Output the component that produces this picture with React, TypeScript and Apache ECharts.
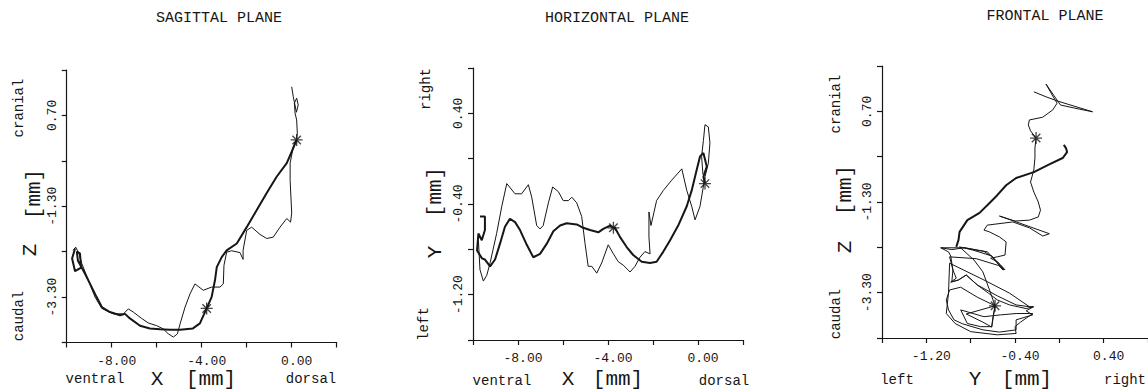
import React, { useEffect, useRef } from "react";
import * as echarts from "echarts";

// ---------- axis ticks / labels ----------
const sagittalXTicks = [-10, -8, -6, -4, -2, 0, 2];
const sagittalXLabels = [-8, -4, 0];
const sagittalZTicks = [-4.3, -3.3, -2.3, -1.3, -0.3, 0.7, 1.7];
const sagittalZLabels = [-3.3, -1.3, 0.7];

const horizontalXTicks = [-10, -8, -6, -4, -2, 0, 2];
const horizontalXLabels = [-8, -4, 0];
const horizontalYTicks = [-1.6, -1.2, -0.8, -0.4, 0, 0.4, 0.8];
const horizontalYLabels = [-1.2, -0.4, 0.4];

const frontalYTicks = [-1.6, -1.2, -0.8, -0.4, 0, 0.4, 0.8];
const frontalYLabels = [-1.2, -0.4, 0.4];
const frontalZTicks = [-4.3, -3.3, -2.3, -1.3, -0.3, 0.7, 1.7];
const frontalZLabels = [-3.3, -1.3, 0.7];

// ---------- trajectories (mm) ----------
const sagittalThick: [number, number][] = [
  [-9.63, -2.23], [-9.76, -2.45], [-9.63, -2.73], [-9.36, -2.65], [-9.41, -2.34], [-9.55, -2.3],
  [-9.5, -2.5], [-9.19, -2.78], [-8.89, -3.08], [-8.67, -3.3], [-8.44, -3.52], [-8.08, -3.63],
  [-7.63, -3.7], [-7.41, -3.67], [-7.19, -3.77], [-6.74, -3.93], [-6.3, -3.99], [-5.85, -4.01],
  [-5.41, -4.02], [-4.96, -4.02], [-4.39, -3.99], [-4.08, -3.88], [-3.78, -3.55], [-3.56, -3.3],
  [-3.41, -2.93], [-3.33, -2.64], [-3.11, -2.42], [-2.89, -2.27], [-2.44, -2.12], [-2.0, -1.76],
  [-1.56, -1.39], [-1.11, -1.01], [-0.67, -0.65], [-0.22, -0.35], [0.0, -0.1], [0.22, 0.16],
];
const sagittalThin: [number, number][] = [
  [-9.71, -2.27], [-9.6, -2.2], [-9.45, -2.35], [-9.33, -2.56], [-9.04, -2.93], [-8.74, -3.3],
  [-8.44, -3.55], [-7.93, -3.67], [-7.48, -3.67], [-7.26, -3.56], [-7.04, -3.63], [-6.67, -3.77],
  [-6.37, -3.87], [-6.0, -3.93], [-5.71, -4.0], [-5.48, -4.11], [-5.26, -4.18], [-5.08, -4.11],
  [-4.96, -3.89], [-4.74, -3.52], [-4.52, -3.23], [-4.3, -3.01], [-3.93, -3.15], [-3.56, -3.08],
  [-3.19, -3.08], [-3.04, -3.01], [-3.01, -2.6], [-2.89, -2.31], [-2.67, -2.28], [-2.3, -2.32],
  [-2.16, -2.47], [-2.16, -2.27], [-2.0, -1.83], [-1.78, -1.76], [-1.41, -1.92], [-1.11, -2.01],
  [-0.82, -1.98], [-0.52, -1.76], [-0.22, -1.57], [-0.05, -1.65], [0.0, -1.45], [-0.07, -0.73],
  [-0.07, -0.35], [0.07, 0.01], [0.22, 0.16], [0.25, 0.31], [0.22, 0.6], [0.15, 0.75],
  [0.12, 0.97], [0.22, 1.08], [0.29, 0.93], [0.21, 0.77], [0.07, 1.11], [0.0, 1.33],
];
const sagittalStars: [number, number][] = [[0.22, 0.16], [-3.78, -3.55]];

const horizontalThick: [number, number][] = [
  [-9.69, -0.51], [-9.47, -0.51], [-9.47, -0.63], [-9.61, -0.72], [-9.76, -0.66], [-9.82, -0.81],
  [-9.6, -0.88], [-9.47, -0.89], [-9.24, -0.95], [-9.02, -0.89], [-8.8, -0.75], [-8.58, -0.6],
  [-8.36, -0.53], [-8.13, -0.56], [-7.91, -0.63], [-7.61, -0.76], [-7.32, -0.87], [-7.02, -0.84],
  [-6.72, -0.75], [-6.43, -0.64], [-6.13, -0.59], [-5.84, -0.57], [-5.39, -0.58], [-5.1, -0.61],
  [-4.8, -0.63], [-4.43, -0.65], [-4.21, -0.62], [-3.91, -0.59], [-3.76, -0.61], [-3.69, -0.61],
  [-3.47, -0.69], [-3.17, -0.78], [-2.88, -0.85], [-2.5, -0.91], [-2.13, -0.92], [-1.84, -0.91],
  [-1.54, -0.82], [-1.24, -0.72], [-0.88, -0.59], [-0.5, -0.42], [-0.28, -0.28], [-0.06, -0.1],
  [0.09, 0.02], [0.24, 0.05], [0.39, -0.07], [0.24, -0.16], [0.31, -0.22],
];
const horizontalThin: [number, number][] = [
  [-9.76, -0.72], [-9.69, -0.98], [-9.54, -1.08], [-9.39, -1.03], [-9.24, -0.92], [-8.95, -0.66],
  [-8.72, -0.42], [-8.5, -0.22], [-8.13, -0.31], [-7.84, -0.31], [-7.54, -0.23], [-7.39, -0.34],
  [-7.17, -0.59], [-7.02, -0.62], [-6.88, -0.59], [-6.65, -0.39], [-6.46, -0.25], [-6.21, -0.29],
  [-5.99, -0.37], [-5.76, -0.37], [-5.61, -0.34], [-5.39, -0.39], [-5.17, -0.51], [-5.02, -0.75],
  [-4.88, -0.95], [-4.72, -0.95], [-4.5, -1.01], [-4.28, -0.92], [-3.99, -0.76], [-3.76, -0.84],
  [-3.54, -0.91], [-3.32, -0.94], [-3.02, -1.0], [-2.8, -0.95], [-2.58, -0.87], [-2.36, -0.82],
  [-2.13, -0.84], [-2.18, -0.69], [-2.18, -0.47], [-2.09, -0.59], [-1.84, -0.37], [-1.54, -0.28],
  [-1.17, -0.19], [-0.72, -0.09], [-0.5, -0.28], [-0.28, -0.42], [-0.13, -0.54], [0.09, -0.42],
  [0.31, -0.16], [0.46, -0.04], [0.53, 0.14], [0.46, 0.28], [0.31, 0.3], [0.24, 0.16],
  [0.16, 0.02], [0.22, -0.14],
];
const horizontalStars: [number, number][] = [[-3.76, -0.61], [0.31, -0.22]];

const frontalThick: [number, number][] = [
  [0.04, -0.04], [0.06, -0.11], [0.07, -0.2], [0.03, -0.33], [-0.1, -0.48], [-0.23, -0.64],
  [-0.39, -0.77], [-0.48, -0.93], [-0.56, -1.15], [-0.65, -1.37], [-0.72, -1.54], [-0.83, -1.7],
  [-0.9, -1.96], [-0.91, -2.14], [-0.93, -2.29],
];
const frontalThin: [number, number][] = [
  [-0.23, 1.13], [-0.12, 1.02], [-0.02, 0.93], [0.3, 0.69], [0.14, 0.77], [0.01, 0.84],
  [-0.12, 1.3], [-0.06, 1.04], [-0.02, 0.88], [-0.06, 0.73], [-0.15, 0.57], [-0.27, 0.51],
  [-0.28, 0.4], [-0.26, 0.27], [-0.21, 0.11], [-0.22, -0.11], [-0.22, -0.33], [-0.23, -0.59],
  [-0.26, -0.86], [-0.23, -1.08], [-0.19, -1.3], [-0.17, -1.48], [-0.19, -1.63], [-0.27, -1.7],
  [-0.4, -1.72], [-0.54, -1.61], [-0.41, -1.72], [-0.09, -2.0], [-0.15, -2.05], [-0.27, -1.87],
  [-0.42, -1.74], [-0.65, -1.81], [-0.68, -1.92], [-0.63, -1.96], [-0.54, -2.07], [-0.48, -2.18],
  [-0.49, -2.47], [-0.56, -2.51], [-0.62, -2.54], [-0.56, -2.62], [-0.49, -2.8], [-0.53, -2.69],
  [-0.65, -2.4], [-0.85, -2.31], [-1.07, -2.31], [-1.0, -2.4], [-0.98, -2.49], [-0.96, -2.8],
  [-0.93, -2.98], [-0.98, -3.07], [-0.91, -3.02], [-0.84, -2.91], [-0.74, -3.13], [-0.56, -3.37],
  [-0.39, -3.57], [-0.24, -3.62], [-0.3, -3.7], [-0.24, -3.79], [-0.39, -3.9], [-0.39, -4.12],
  [-0.54, -4.17], [-0.69, -4.12], [-0.87, -3.99], [-0.95, -3.9], [-1.0, -3.68], [-1.02, -3.46],
  [-0.99, -3.24], [-0.89, -3.18], [-0.74, -3.4], [-0.58, -3.59], [-0.6, -3.86], [-0.61, -4.06],
  [-0.69, -3.95], [-0.84, -3.77], [-0.58, -3.59], [-0.63, -3.24], [-0.69, -2.84], [-0.77, -2.58],
  [-0.9, -2.29], [-0.78, -2.36], [-0.61, -2.49], [-0.51, -2.8],
];
const frontalThinLower: [number, number][] = [
  [-1.07, -2.31], [-0.97, -2.35], [-0.86, -2.31], [-0.68, -2.39], [-0.61, -2.5], [-0.56, -2.64],
  [-0.5, -2.8], [-0.55, -2.7], [-0.75, -2.55], [-0.99, -2.51], [-0.96, -2.8], [-0.97, -3.06],
  [-0.91, -3.02], [-0.84, -2.91], [-0.74, -3.13], [-0.64, -3.31], [-0.56, -3.46], [-0.45, -3.57],
  [-0.3, -3.65], [-0.23, -3.61], [-0.27, -3.61], [-0.45, -3.31], [-0.68, -3.02], [-0.99, -2.65],
  [-1.0, -3.31], [-1.02, -3.76], [-0.94, -3.98], [-0.8, -4.16], [-0.56, -4.23], [-0.39, -4.2],
  [-0.4, -4.05], [-0.35, -3.95], [-0.24, -3.76], [-0.39, -3.76], [-0.53, -3.79], [-0.68, -3.83],
  [-0.89, -3.68], [-0.83, -3.98], [-0.71, -4.05], [-0.61, -4.05], [-0.58, -3.59],
];
const frontalStars: [number, number][] = [[-0.21, 0.11], [-0.58, -3.59]];

// ---------- styling ----------
const INK = "#161616";
const MONO = "'Liberation Mono', 'DejaVu Sans Mono', monospace";

function starPath(): string {
  const L = 10;
  const w = 1.1;
  const parts: string[] = [];
  [0, 45, 90, 135].forEach((deg) => {
    const a = (deg * Math.PI) / 180;
    const dx = Math.cos(a), dy = Math.sin(a);
    const nx = -dy, ny = dx;
    const pts = [
      [L * dx + w * nx, L * dy + w * ny],
      [L * dx - w * nx, L * dy - w * ny],
      [-L * dx - w * nx, -L * dy - w * ny],
      [-L * dx + w * nx, -L * dy + w * ny],
    ].map((p) => `${(p[0] + 11).toFixed(2)} ${(p[1] + 11).toFixed(2)}`);
    parts.push(`M${pts[0]} L${pts[1]} L${pts[2]} L${pts[3]} Z`);
  });
  return "path://" + parts.join(" ");
}
const STAR = starPath();

function fmt(v: number) {
  const r = Math.round(v * 100) / 100;
  return (Object.is(r, -0) ? 0 : r).toFixed(2);
}

function makeXAxis(gridIndex: number, ticks: number[], labels: number[]) {
  return {
    type: "value",
    gridIndex,
    min: ticks[0],
    max: ticks[ticks.length - 1],
    splitLine: { show: false },
    axisLine: { show: true, onZero: false, lineStyle: { color: INK, width: 1.2 } },
    axisTick: { show: true, customValues: ticks, length: 5, inside: false, lineStyle: { color: INK, width: 1.2 } },
    axisLabel: {
      customValues: labels,
      formatter: (v: number) => fmt(v),
      fontFamily: MONO,
      fontSize: 13,
      color: INK,
      margin: 12,
      padding: [0, 0, 0, 10],
    },
  };
}

function makeYAxis(gridIndex: number, ticks: number[], labels: number[]) {
  return {
    type: "value",
    gridIndex,
    min: ticks[0],
    max: ticks[ticks.length - 1],
    splitLine: { show: false },
    axisLine: { show: true, onZero: false, lineStyle: { color: INK, width: 1.2 } },
    axisTick: { show: true, customValues: ticks, length: 5, inside: false, lineStyle: { color: INK, width: 1.2 } },
    axisLabel: {
      customValues: labels,
      formatter: (v: number) => fmt(v),
      fontFamily: MONO,
      fontSize: 13,
      color: INK,
      rotate: 90,
      margin: 8,
    },
  };
}

function lineSeries(idx: number, data: [number, number][], width: number) {
  return {
    type: "line",
    xAxisIndex: idx,
    yAxisIndex: idx,
    data,
    showSymbol: false,
    symbol: "none",
    smooth: false,
    silent: true,
    lineStyle: { color: INK, width },
  };
}

function starSeries(idx: number, data: [number, number][]) {
  return {
    type: "scatter",
    xAxisIndex: idx,
    yAxisIndex: idx,
    data,
    symbol: STAR,
    symbolSize: 12,
    silent: true,
    itemStyle: { color: INK },
  };
}

function txt(text: string, x: number, y: number, size: number, rotated = false) {
  return {
    type: "text",
    x,
    y,
    rotation: rotated ? Math.PI / 2 : 0,
    silent: true,
    style: {
      text,
      fill: INK,
      font: `${size}px ${MONO}`,
      align: "center",
      verticalAlign: "middle",
    },
  };
}

export default function App() {
  const ref = useRef<HTMLDivElement>(null);

  useEffect(() => {
    document.body.style.margin = "0";
    if (!ref.current) return;
    const chart = echarts.init(ref.current, undefined, { renderer: "svg" });
    const SMALL = 14;
    const BIG = 21;
    chart.setOption({
      animation: false,
      backgroundColor: "#ffffff",
      grid: [
        { left: 66.7, top: 70, width: 270, height: 272.5 },
        { left: 473, top: 68, width: 270, height: 272 },
        { left: 882, top: 66, width: 273, height: 272 },
      ],
      xAxis: [
        makeXAxis(0, sagittalXTicks, sagittalXLabels),
        makeXAxis(1, horizontalXTicks, horizontalXLabels),
        makeXAxis(2, frontalYTicks, frontalYLabels),
      ],
      yAxis: [
        makeYAxis(0, sagittalZTicks, sagittalZLabels),
        makeYAxis(1, horizontalYTicks, horizontalYLabels),
        makeYAxis(2, frontalZTicks, frontalZLabels),
      ],
      series: [
        lineSeries(0, sagittalThin, 1),
        lineSeries(0, sagittalThick, 2),
        starSeries(0, sagittalStars),
        lineSeries(1, horizontalThin, 1),
        lineSeries(1, horizontalThick, 2),
        starSeries(1, horizontalStars),
        lineSeries(2, frontalThin, 1),
        lineSeries(2, frontalThinLower, 1),
        lineSeries(2, frontalThick, 2),
        starSeries(2, frontalStars),
      ],
      graphic: [
        txt("SAGITTAL PLANE", 219, 18, 15),
        txt("HORIZONTAL PLANE", 617, 18, 15),
        txt("FRONTAL PLANE", 1045, 16, 15),
        // sagittal
        txt("cranial", 19, 108, SMALL, true),
        txt("caudal", 19, 316, SMALL, true),
        txt("[mm]", 34, 194, BIG, true),
        txt("Z", 30, 250, BIG, true),
        txt("ventral", 95, 379, SMALL),
        txt("X", 157, 379, BIG),
        txt("[mm]", 211, 379, BIG),
        txt("dorsal", 311, 379, SMALL),
        // horizontal
        txt("right", 426, 89, SMALL, true),
        txt("[mm]", 435, 192, BIG, true),
        txt("Y", 435, 252, BIG, true),
        txt("left", 424, 324, SMALL, true),
        txt("ventral", 502, 381, SMALL),
        txt("X", 568, 379, BIG),
        txt("[mm]", 618, 379, BIG),
        txt("dorsal", 724, 381, SMALL),
        // frontal
        txt("cranial", 836, 104, SMALL, true),
        txt("[mm]", 845, 190, BIG, true),
        txt("Z", 845, 247, BIG, true),
        txt("caudal", 836, 314, SMALL, true),
        txt("left", 897, 380, SMALL),
        txt("Y", 975, 379, BIG),
        txt("[mm]", 1027, 379, BIG),
        txt("right", 1125, 380, SMALL),
      ],
    });
    return () => chart.dispose();
  }, []);

  return <div ref={ref} style={{ width: 1148, height: 389, background: "#fff" }} />;
}
